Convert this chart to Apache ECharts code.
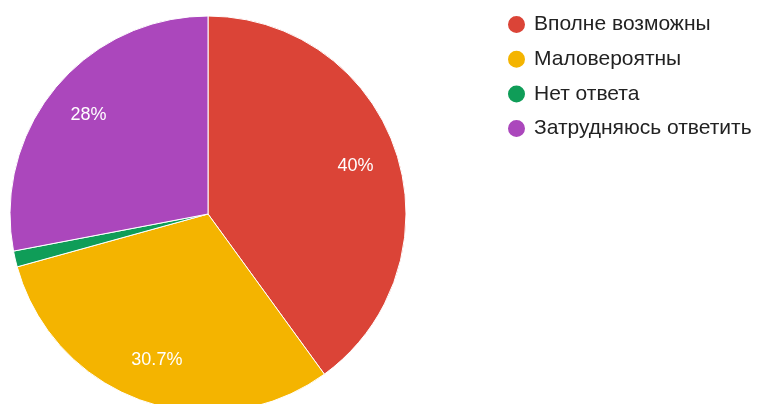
<!DOCTYPE html>
<html>
<head>
<meta charset="utf-8">
<script src="https://cdn.jsdelivr.net/npm/echarts@6/dist/echarts.min.js"></script>
<style>
html,body{margin:0;padding:0;background:#fff;}
#c{width:758px;height:404px;}
</style>
</head>
<body>
<div id="c"></div>
<script>
const categories = ['Вполне возможны', 'Маловероятны', 'Нет ответа', 'Затрудняюсь ответить'];
const values = [40, 30.7, 1.3, 28];
const labels = ['40%', '30.7%', '', '28%'];
const colors = ['#db4437', '#f4b400', '#0f9d58', '#ab47bc'];

const chart = echarts.init(document.getElementById('c'), null, {renderer: 'canvas'});
const baseData = categories.map((n, i) => ({name: n, value: values[i]}));
chart.setOption({
  animation: false,
  color: colors,
  legend: {
    orient: 'vertical',
    left: 506,
    top: 14,
    padding: 0,
    icon: 'circle',
    itemWidth: 19,
    itemHeight: 19,
    itemGap: 13.7,
    data: categories,
    textStyle: {fontFamily: 'Liberation Sans, Arial', fontSize: 21, lineHeight: 21, color: '#222', padding: [0, 0, 0, 3]}
  },
  series: [
    {
      type: 'pie',
      center: [208, 214],
      radius: [0, 198],
      startAngle: 90,
      clockwise: true,
      silent: true,
      itemStyle: {borderColor: '#fff', borderWidth: 1},
      label: {show: false},
      labelLine: {show: false},
      data: baseData
    },
    {
      type: 'pie',
      center: [208, 214],
      radius: [106, 198],
      startAngle: 90,
      clockwise: true,
      silent: true,
      itemStyle: {color: 'rgba(0,0,0,0)', borderWidth: 0},
      label: {
        show: true,
        position: 'inside',
        color: '#fff',
        fontFamily: 'Liberation Sans, Arial',
        fontSize: 18,
        formatter: p => labels[p.dataIndex]
      },
      labelLine: {show: false},
      data: baseData
    }
  ]
});
</script>
</body>
</html>
